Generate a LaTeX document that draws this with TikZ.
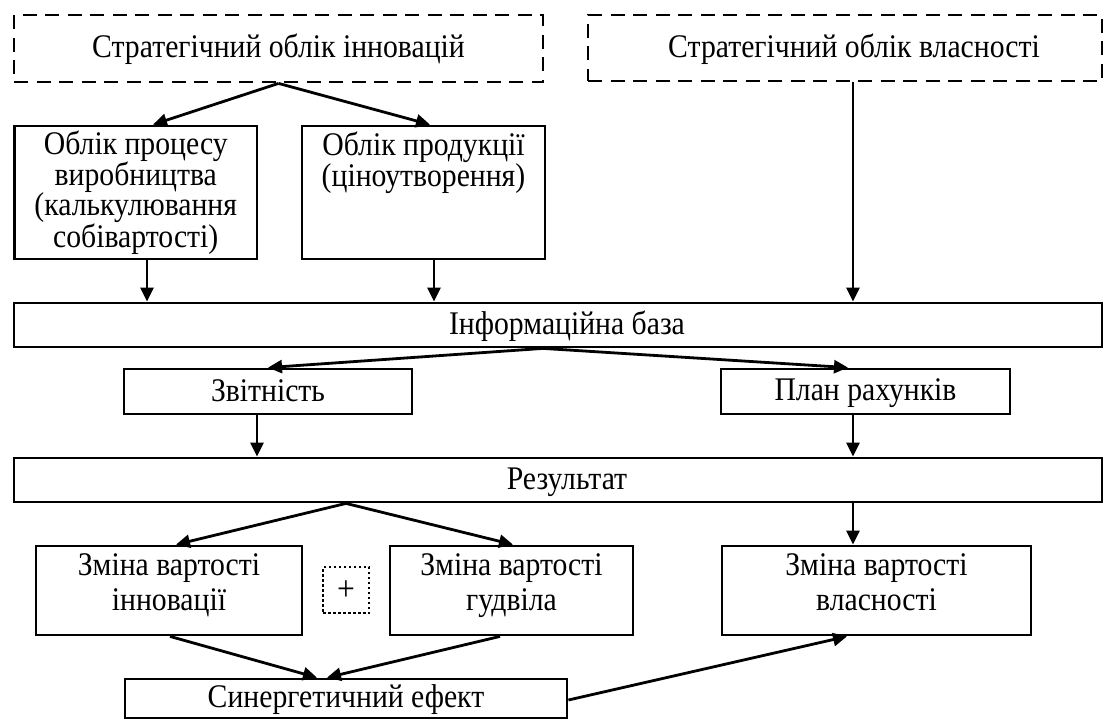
\documentclass[tikz,border=0pt]{standalone}
\usepackage{fontspec}
\setmainfont[FakeStretch=0.9]{Liberation Serif}
\usetikzlibrary{arrows.meta}
\newcommand\rpad{\hspace*{18pt}}
\tikzset{
  box/.style={draw, line width=2.8pt, inner sep=0pt, align=center},
  one/.style={box, font=\fontsize{33}{35}\selectfont,
    execute at begin node=\rule[-6pt]{0pt}{32pt}},
  two/.style={box, font=\fontsize{33}{35}\selectfont,
    execute at begin node=\rule{0pt}{25pt}, execute at end node=\rule[-17pt]{0pt}{17pt}},
  four/.style={box, font=\fontsize{33}{30}\selectfont,
    execute at begin node=\rule{0pt}{25pt}, execute at end node=\rule[-6pt]{0pt}{6pt}},
  dbox/.style={one, dash pattern=on 14pt off 8.5pt},
  pbox/.style={draw, line width=2.5pt, dash pattern=on 2.5pt off 2.5pt, inner sep=0pt,
    font=\fontsize{35}{35}\selectfont, execute at begin node=\rule[-6pt]{0pt}{32pt}},
  arr/.style={line width=2.8pt, -{Triangle[length=14pt,width=13pt]}},
}
\begin{document}
\begin{tikzpicture}[x=1pt,y=-1pt]
\useasboundingbox (0,0) rectangle (1115,720);
\node[dbox, minimum width=529pt, minimum height=67pt] (sl) at (278.5,48.5) {Стратегічний облік інновацій};
\node[dbox, minimum width=514pt, minimum height=66pt] (sr) at (845,48) {\rpad Стратегічний облік власності};
\node[four, minimum width=242.5pt, minimum height=133pt] (A) at (135.75,192.5) {Облік процесу\\виробництва\\(калькулювання\\собівартості)};
\node[four, minimum width=243pt, minimum height=133pt] (B) at (423.5,192.5) {Облік продукції\\(ціноутворення)\\\mbox{}\\\mbox{}};
\node[one, minimum width=1088pt, minimum height=44pt] (info) at (558,325) {\rpad Інформаційна база};
\node[one, minimum width=288pt, minimum height=45pt] (zv) at (268,391.5) {Звітність};
\node[one, minimum width=289pt, minimum height=45pt] (plan) at (865.5,391.5) {План рахунків};
\node[one, minimum width=1088pt, minimum height=44pt] (res) at (558,480) {\rpad Результат};
\node[two, minimum width=266pt, minimum height=89pt] (inn) at (169,590.5) {Зміна вартості\\інновації};
\node[pbox, minimum width=46pt, minimum height=46pt] (plus) at (346,590) {+};
\node[two, minimum width=243pt, minimum height=89pt] (gud) at (511.5,590.5) {Зміна вартості\\гудвіла};
\node[two, minimum width=309pt, minimum height=89pt] (vl) at (876.5,590.5) {Зміна вартості\\власності};
\node[one, minimum width=442pt, minimum height=39pt] (syn) at (346,698.5) {Синергетичний ефект};

\draw[arr] (sl.south) -- ([xshift=17.25pt]A.north);
\draw[arr] (sl.south) -- ([xshift=6.5pt]B.north);
\draw[arr] ([xshift=11.25pt]A.south) -- ([xshift=11.25pt]A.south |- info.north);
\draw[arr] ([xshift=10.5pt]B.south) -- ([xshift=10.5pt]B.south |- info.north);
\draw[arr] ([xshift=8pt]sr.south) -- ([xshift=8pt]sr.south |- info.north);
\draw[arr] ([xshift=-15pt]info.south) -- (zv.north);
\draw[arr] ([xshift=-15pt]info.south) -- ([xshift=-17.5pt]plan.north);
\draw[arr] ([xshift=-11pt]zv.south) -- ([xshift=-11pt]zv.south |- res.north);
\draw[arr] ([xshift=-12.5pt]plan.south) -- ([xshift=-12.5pt]plan.south |- res.north);
\draw[arr] ([xshift=-212pt]res.south) -- ([xshift=7pt]inn.north);
\draw[arr] ([xshift=-212pt]res.south) -- ([xshift=1.5pt]gud.north);
\draw[arr] ([xshift=-23.5pt]vl.north |- res.south) -- ([xshift=-23.5pt]vl.north);
\draw[arr] ([xshift=1pt]inn.south) -- ([xshift=-29pt]syn.north);
\draw[arr] ([xshift=-11.5pt]gud.south) -- ([xshift=-19pt]syn.north);
\draw[arr] ([yshift=-1.5pt]syn.east) -- ([xshift=-29.5pt]vl.south);
\end{tikzpicture}
\end{document}
